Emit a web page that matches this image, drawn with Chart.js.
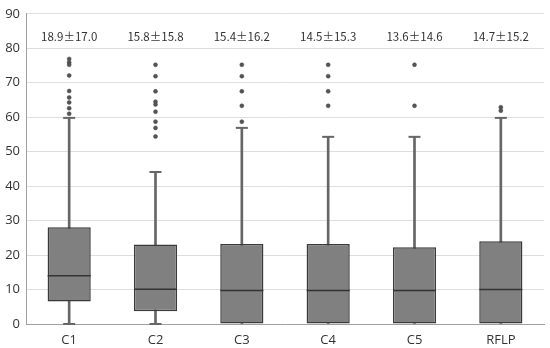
<!DOCTYPE html>
<html>
<head>
<meta charset="utf-8">
<script src="https://cdn.jsdelivr.net/npm/chart.js@4/dist/chart.umd.min.js"></script>
<style>
  html, body { margin: 0; padding: 0; background: #fff; }
  #wrap { width: 550px; height: 348px; position: relative; }
</style>
</head>
<body>
<div id="wrap"><canvas id="c"></canvas></div>
<script>
const categories = ['C1', 'C2', 'C3', 'C4', 'C5', 'RFLP'];
const whiskerLow = [0, 0, 0, 0, 0, 0];
const q1 = [6.5, 3.7, 0, 0, 0, 0];
const median = [14.0, 10.1, 9.7, 9.7, 9.7, 10.0];
const q3 = [28.1, 23.1, 23.2, 23.2, 22.3, 24.0];
const whiskerHigh = [59.8, 44.1, 56.9, 54.3, 54.3, 59.8];
const outliersC1 = [76.9, 75.9, 75.2, 72.1, 67.6, 65.7, 64.3, 62.6, 61.0];
const outliersC2 = [75.2, 71.9, 67.5, 64.5, 63.7, 61.6, 58.7, 56.9, 54.4];
const outliersC3 = [75.2, 71.9, 67.5, 63.3, 58.7];
const outliersC4 = [75.2, 71.9, 67.5, 63.3];
const outliersC5 = [75.2, 63.3];
const outliersRFLP = [62.9, 61.9];
const meanSd = ['18.9±17.0', '15.8±15.8', '15.4±16.2', '14.5±15.3', '13.6±14.6', '14.7±15.2'];
const yTicks = [0, 10, 20, 30, 40, 50, 60, 70, 80, 90];
const annotationLevel = 83.3;

const outlierLists = [outliersC1, outliersC2, outliersC3, outliersC4, outliersC5, outliersRFLP];
const outlierPoints = [];
outlierLists.forEach((list, i) => list.forEach(v => outlierPoints.push({ x: categories[i], y: v })));

const lowCaps = categories.map((c, i) => whiskerLow[i] < q1[i] ? whiskerLow[i] : null);

const annotationPlugin = {
  id: 'meanSd',
  afterDatasetsDraw(chart) {
    const ctx = chart.ctx;
    const xs = chart.scales.x, ys = chart.scales.y;
    ctx.save();
    ctx.font = "11.5px 'Noto Sans CJK JP'";
    ctx.fillStyle = '#333';
    ctx.textAlign = 'center';
    ctx.textBaseline = 'middle';
    meanSd.forEach((t, i) => {
      ctx.fillText(t, xs.getPixelForValue(i), ys.getPixelForValue(annotationLevel));
    });
    ctx.restore();
  }
};

new Chart(document.getElementById('c'), {
  type: 'bar',
  data: {
    labels: categories,
    datasets: [
      {
        type: 'bar',
        data: categories.map((c, i) => [whiskerLow[i], whiskerHigh[i]]),
        backgroundColor: '#666666',
        barThickness: 2,
        grouped: false,
        order: 5
      },
      {
        type: 'bar',
        data: categories.map((c, i) => [q1[i], q3[i]]),
        backgroundColor: '#808080',
        borderColor: '#3a3a3a',
        borderWidth: 1.5,
        borderSkipped: false,
        barPercentage: 0.5,
        categoryPercentage: 1,
        grouped: false,
        order: 4
      },
      {
        type: 'line',
        data: median,
        showLine: false,
        pointStyle: 'line',
        pointRadius: 21.5,
        pointBorderColor: '#333333',
        pointBorderWidth: 1.5,
        clip: false,
        order: 1
      },
      {
        type: 'line',
        data: whiskerHigh,
        showLine: false,
        pointStyle: 'line',
        pointRadius: 6,
        pointBorderColor: '#666666',
        pointBorderWidth: 2,
        clip: false,
        order: 2
      },
      {
        type: 'line',
        data: lowCaps,
        showLine: false,
        pointStyle: 'line',
        pointRadius: 6,
        pointBorderColor: '#666666',
        pointBorderWidth: 2,
        clip: false,
        order: 2
      },
      {
        type: 'line',
        data: outlierPoints,
        showLine: false,
        pointStyle: 'circle',
        pointRadius: 2,
        pointBackgroundColor: '#555555',
        pointBorderColor: '#444444',
        pointBorderWidth: 0.5,
        clip: false,
        order: 0
      }
    ]
  },
  options: {
    responsive: true,
    maintainAspectRatio: false,
    animation: false,
    events: [],
    layout: { autoPadding: false, padding: { top: 10, right: 6, left: 0, bottom: 0 } },
    plugins: { legend: { display: false }, tooltip: { enabled: false } },
    scales: {
      x: {
        type: 'category',
        grid: { display: false, drawTicks: false },
        border: { display: true, color: '#a0a0a0', width: 1 },
        ticks: { padding: 8, color: '#333', font: { family: "'Open Sans'", size: 13 } },
        afterFit(scale) { scale.height = 24; }
      },
      y: {
        min: 0,
        max: 90,
        afterBuildTicks(scale) { scale.ticks = yTicks.map(v => ({ value: v })); },
        grid: { color: '#dedede', lineWidth: 1, drawTicks: false },
        border: { display: true, color: '#a0a0a0', width: 1 },
        ticks: { padding: 6, color: '#333', font: { family: "'Open Sans'", size: 13 } },
        afterFit(scale) { scale.width = 26; }
      }
    }
  },
  plugins: [annotationPlugin]
});
</script>
</body>
</html>
